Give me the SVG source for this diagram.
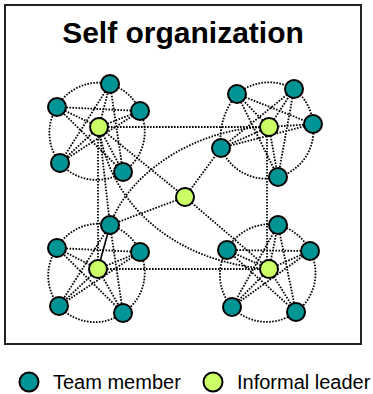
<svg xmlns="http://www.w3.org/2000/svg" width="373" height="394" viewBox="0 0 373 394">
<style>
.d{fill:none;stroke:#000;stroke-width:1.8;stroke-dasharray:1.6 1.4}
.s{fill:none;stroke:#000;stroke-width:1.6}
.m{fill:#009494;stroke:#000;stroke-width:2}
.l{fill:#ccff66;stroke:#000;stroke-width:2}
.t{font-family:"Liberation Sans",Arial,sans-serif;fill:#000}
</style>
<rect x="5" y="5" width="356" height="339" fill="#fff" stroke="#222" stroke-width="2"/>
<text class="t" x="183" y="43" font-size="30" font-weight="bold" text-anchor="middle">Self organization</text>
<g id="connectors">
<path class="d" d="M110,84 A48,48 0 0 1 140,111 A48,48 0 0 1 123,172 A48,48 0 0 1 60,163 A48,48 0 0 1 57,107 A48,48 0 0 1 110,84Z"/>
<path class="d" d="M237,94 A50,50 0 0 1 294,89 A48,48 0 0 1 313,124 A48,48 0 0 1 278,177 A48,48 0 0 1 221,148 A70,70 0 0 1 237,94Z"/>
<path class="d" d="M110,225 A48,48 0 0 1 140,252 A48,48 0 0 1 123,313 A48,48 0 0 1 59,306 A48,48 0 0 1 57,248 A48,48 0 0 1 110,225Z"/>
<path class="d" d="M278,225 A48,48 0 0 1 310,251 A48,48 0 0 1 296,312 A48,48 0 0 1 232,307 A48,48 0 0 1 227,250 A48,48 0 0 1 278,225Z"/>
<path class="d" d="M99,127L110,84M99,127L140,111M99,127L123,172M99,127L60,163M99,127L57,107M110,84L123,172M110,84L60,163M140,111L60,163M140,111L57,107M123,172L57,107"/>
<path class="d" d="M269,127L237,94M269,127L294,89M269,127L313,124M269,127L278,177M269,127L221,148M237,94L313,124M237,94L278,177M294,89L278,177M294,89L221,148M313,124L221,148"/>
<path class="d" d="M98,269L140,252M98,269L123,313M98,269L59,306M98,269L57,248M110,225L123,313M110,225L59,306M140,252L59,306M140,252L57,248M123,313L57,248"/>
<path class="s" d="M110,225L98,269"/>
<path class="d" d="M269,269L278,225M269,269L310,251M269,269L296,312M269,269L232,307M269,269L227,250M278,225L296,312M278,225L232,307M310,251L232,307M310,251L227,250M296,312L227,250"/>
<path class="d" d="M99,127L269,127M98,269L269,269M98,127L98,269M267,127L267,269M99,127L185,197M185,197L221,148M185,197L110,225M185,197L269,269M99,127L110,225"/>
<path class="d" d="M99,127C108,200 170,262 269,269"/>
<path class="d" d="M269,127C200,127 130,170 110,225"/>
</g>
<g id="cluster-top-left">
<circle class="m" cx="110" cy="84" r="9"/>
<circle class="m" cx="140" cy="111" r="9"/>
<circle class="m" cx="123" cy="172" r="9"/>
<circle class="m" cx="60" cy="163" r="9"/>
<circle class="m" cx="57" cy="107" r="9"/>
<circle class="l" cx="99" cy="127" r="9"/>
</g>
<g id="cluster-top-right">
<circle class="m" cx="237" cy="94" r="9"/>
<circle class="m" cx="294" cy="89" r="9"/>
<circle class="m" cx="313" cy="124" r="9"/>
<circle class="m" cx="278" cy="177" r="9"/>
<circle class="m" cx="221" cy="148" r="9"/>
<circle class="l" cx="269" cy="127" r="9"/>
</g>
<g id="cluster-bottom-left">
<circle class="m" cx="110" cy="225" r="9"/>
<circle class="m" cx="140" cy="252" r="9"/>
<circle class="m" cx="123" cy="313" r="9"/>
<circle class="m" cx="59" cy="306" r="9"/>
<circle class="m" cx="57" cy="248" r="9"/>
<circle class="l" cx="98" cy="269" r="9"/>
</g>
<g id="cluster-bottom-right">
<circle class="m" cx="278" cy="225" r="9"/>
<circle class="m" cx="310" cy="251" r="9"/>
<circle class="m" cx="296" cy="312" r="9"/>
<circle class="m" cx="232" cy="307" r="9"/>
<circle class="m" cx="227" cy="250" r="9"/>
<circle class="l" cx="269" cy="269" r="9"/>
</g>
<g id="center-leader">
<circle class="l" cx="185" cy="197" r="9"/>
</g>
<g id="legend">
<circle class="m" cx="29" cy="382" r="9.5"/>
<text class="t" x="53" y="389" font-size="20">Team member</text>
<circle class="l" cx="213" cy="382" r="9.5"/>
<text class="t" x="237" y="389" font-size="20">Informal leader</text>
</g>
</svg>
